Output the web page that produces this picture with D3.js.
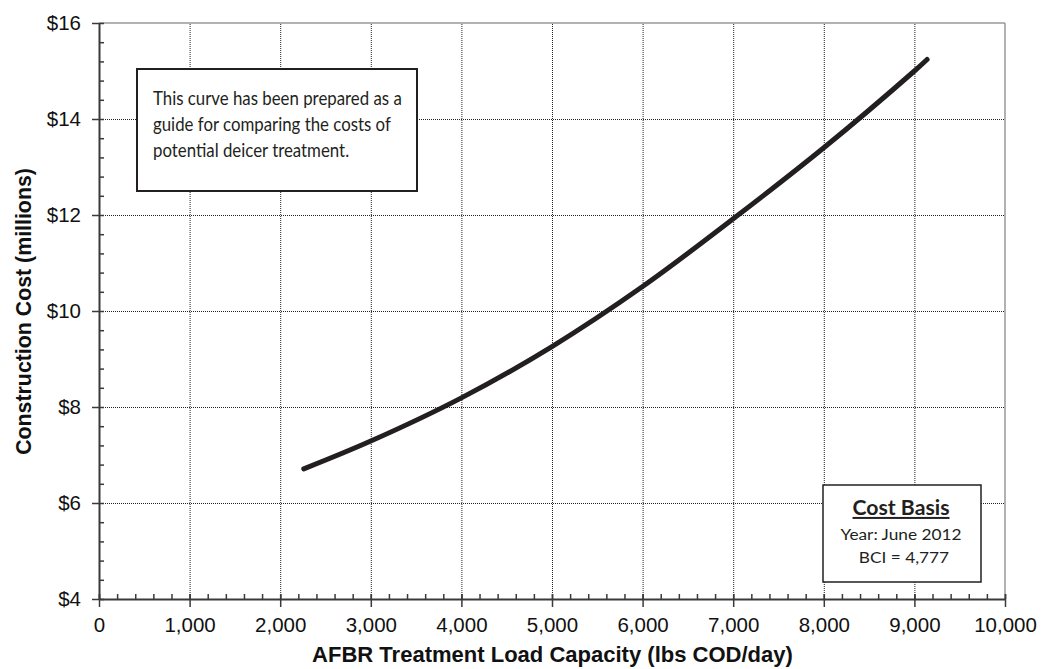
<!DOCTYPE html>
<html>
<head>
<meta charset="utf-8">
<script src="https://cdn.jsdelivr.net/npm/d3@7"></script>
<style>
  html, body { margin: 0; padding: 0; background: #fff; }
  svg { display: block; }
</style>
</head>
<body>
<svg id="chart" width="1041" height="669"></svg>
<script>
// ---- data ----
const loadCapacity = [2260, 3000, 4000, 5000, 6000, 7000, 8000, 9000, 9140];
const costMillions = [6.71, 7.29, 8.19, 9.26, 10.51, 11.92, 13.40, 15.00, 15.24];
const xTicks = [0, 1000, 2000, 3000, 4000, 5000, 6000, 7000, 8000, 9000, 10000];
const yTicks = [4, 6, 8, 10, 12, 14, 16];
const noteLines = ["This curve has been prepared as a", "guide for comparing the costs of", "potential deicer treatment."];
const basisTitle = "Cost Basis";
const basisLines = ["Year: June 2012", "BCI = 4,777"];
const xTitle = "AFBR Treatment Load Capacity (lbs COD/day)";
const yTitle = "Construction Cost (millions)";

// ---- layout ----
const L = 99, R = 1005, T = 23, B = 599;
const svg = d3.select("#chart");
const x = d3.scaleLinear().domain([0, 10000]).range([L, R]);
const y = d3.scaleLinear().domain([4, 16]).range([B, T]);
const dark = "#3a3a3a";
const ink = "#231f20";
const axisFont = "'Liberation Sans', Arial, sans-serif";
const boxFont = "Lato, 'Open Sans', sans-serif";

// helper: fit a text element horizontally by scaling in x around an anchor
function fitX(sel, target, ax) {
  const w = sel.node().getComputedTextLength();
  const s = target / w;
  sel.attr("transform", `translate(${ax},0) scale(${s},1) translate(${-ax},0)`);
  return s;
}

// gridlines
const gx = svg.append("g").attr("transform", `translate(0,${B})`)
  .call(d3.axisBottom(x).tickValues(xTicks.slice(1, -1)).tickSize(-(B - T)).tickFormat(""));
gx.select(".domain").remove();
gx.selectAll("line").attr("stroke", "#222").attr("stroke-dasharray", "1,1").attr("stroke-width", 1);
const gy = svg.append("g").attr("transform", `translate(${L},0)`)
  .call(d3.axisLeft(y).tickValues(yTicks.slice(1, -1)).tickSize(-(R - L)).tickFormat(""));
gy.select(".domain").remove();
gy.selectAll("line").attr("stroke", "#222").attr("stroke-dasharray", "1,1").attr("stroke-width", 1);

// top and right border (gray)
svg.append("line").attr("x1", L).attr("x2", R).attr("y1", y(16)).attr("y2", y(16))
  .attr("stroke", "#999").attr("stroke-width", 1.5);
svg.append("line").attr("x1", x(10000)).attr("x2", x(10000)).attr("y1", T).attr("y2", B)
  .attr("stroke", "#999").attr("stroke-width", 1.5);

// minor ticks
const xMinor = d3.range(0, 10001, 200);
const yMinor = d3.range(4, 16.001, 0.4);
const mx = svg.append("g").attr("transform", `translate(0,${B})`)
  .call(d3.axisBottom(x).tickValues(xMinor).tickSizeInner(-5).tickSizeOuter(0).tickFormat(""));
mx.select(".domain").remove();
mx.selectAll("line").attr("stroke", dark).attr("stroke-width", 1.5);
const my = svg.append("g").attr("transform", `translate(${L},0)`)
  .call(d3.axisLeft(y).tickValues(yMinor).tickSizeInner(-5).tickSizeOuter(0).tickFormat(""));
my.select(".domain").remove();
my.selectAll("line").attr("stroke", dark).attr("stroke-width", 1.5);

// major axes
const ax = svg.append("g").attr("transform", `translate(0,${B})`)
  .call(d3.axisBottom(x).tickValues(xTicks).tickSizeInner(8).tickSizeOuter(0).tickPadding(10)
    .tickFormat(d3.format(",")));
ax.select(".domain").attr("stroke", dark).attr("stroke-width", 2);
ax.selectAll("line").attr("stroke", dark).attr("stroke-width", 1.5).attr("y1", -5);
ax.selectAll("text").attr("font-family", axisFont).attr("font-size", 20.5).attr("fill", "#111");

const ay = svg.append("g").attr("transform", `translate(${L},0)`)
  .call(d3.axisLeft(y).tickValues(yTicks).tickSizeInner(7).tickSizeOuter(0).tickPadding(11)
    .tickFormat(d => "$" + d));
ay.select(".domain").attr("stroke", dark).attr("stroke-width", 2);
ay.selectAll("line").attr("stroke", dark).attr("stroke-width", 1.5);
ay.selectAll("text").attr("font-family", axisFont).attr("font-size", 20.5).attr("fill", "#111");

// axis titles
const xt = svg.append("text").attr("x", 552.5).attr("y", 662).attr("text-anchor", "middle")
  .attr("font-family", axisFont).attr("font-weight", "bold").attr("font-size", 20).attr("fill", "#111")
  .text(xTitle);
xt.attr("font-size", 20 * 481 / xt.node().getComputedTextLength());
const yt = svg.append("text").attr("transform", `translate(31,311.5) rotate(-90)`).attr("text-anchor", "middle")
  .attr("font-family", axisFont).attr("font-weight", "bold").attr("font-size", 20).attr("fill", "#111")
  .text(yTitle);
yt.attr("font-size", 20 * 287 / yt.node().getComputedTextLength());

// curve
const pts = loadCapacity.map((d, i) => [d, costMillions[i]]);
svg.append("path").datum(pts)
  .attr("d", d3.line().x(d => x(d[0])).y(d => y(d[1])).curve(d3.curveCatmullRom))
  .attr("fill", "none").attr("stroke", ink).attr("stroke-width", 5).attr("stroke-linecap", "round");

// note box
svg.append("rect").attr("x", 137).attr("y", 69).attr("width", 280).attr("height", 122)
  .attr("fill", "#fff").attr("stroke", ink).attr("stroke-width", 2);
const note = svg.append("g");
noteLines.forEach((t, i) => {
  note.append("text").attr("x", 153).attr("y", 105 + i * 26)
    .attr("font-family", boxFont).attr("font-size", 19.5).attr("fill", ink).text(t);
});
const s0 = 249 / note.select("text").node().getComputedTextLength();
note.attr("transform", `translate(153,0) scale(${s0},1) translate(-153,0)`);

// cost basis box
svg.append("rect").attr("x", 823).attr("y", 485).attr("width", 158).attr("height", 97)
  .attr("fill", "#fff").attr("stroke", ink).attr("stroke-width", 1.5);
const cb = svg.append("text").attr("x", 901).attr("y", 515).attr("text-anchor", "middle")
  .attr("font-family", boxFont).attr("font-weight", "bold").attr("font-size", 20)
  .attr("text-decoration", "underline").attr("fill", ink).text(basisTitle);
fitX(cb, 97, 901);
const by = [540, 563];
const bx = [901, 904];
const bt = basisLines.map((t, i) => svg.append("text").attr("x", bx[i]).attr("y", by[i]).attr("text-anchor", "middle")
    .attr("font-family", boxFont).attr("font-size", 16).attr("fill", ink).text(t));
const sb = 121 / bt[0].node().getComputedTextLength();
bt.forEach((tt, i) => tt.attr("transform", `translate(${bx[i]},0) scale(${sb},1) translate(${-bx[i]},0)`));
</script>
</body>
</html>
